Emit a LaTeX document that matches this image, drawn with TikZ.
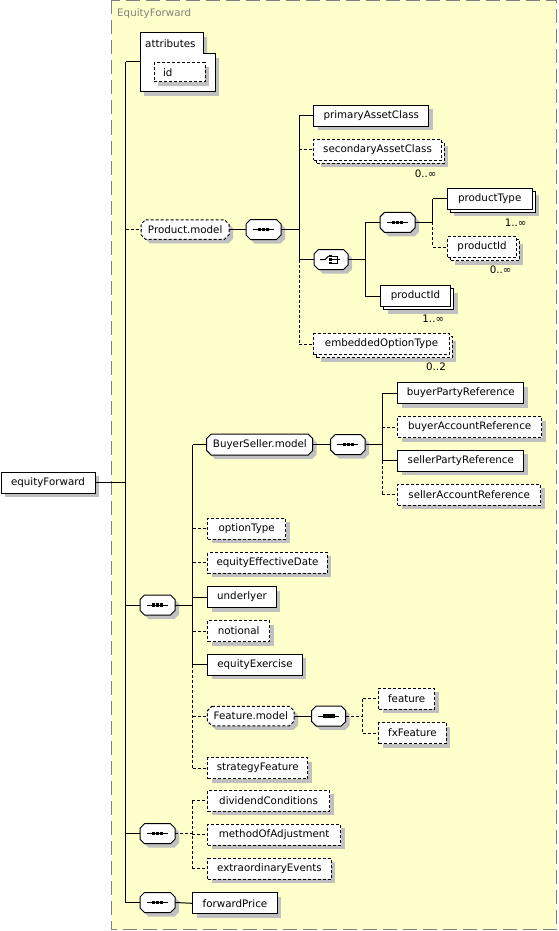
\documentclass[tikz,border=0pt]{standalone}
\usepackage{fontspec}
\setmainfont{DejaVu Sans}
\definecolor{bgyellow}{HTML}{FFFFCC}
\definecolor{bordergray}{HTML}{808080}
\definecolor{shadowgray}{HTML}{C0C0C0}
\newcommand\seqsym[1]{%
  \draw[line width=1pt] ([xshift=-11pt]#1.center) -- ([xshift=10pt]#1.center);
  \foreach \d in {-4,0,4} \fill ([xshift=\d pt]#1.center) +(-1.6pt,-1.6pt) rectangle +(1.6pt,1.6pt);}
\newcommand\chsym[1]{%
  \draw[line width=1pt] ([xshift=-11pt]#1.center) -- ([xshift=-6pt]#1.center) -- ([shift={(-2.5pt,3.5pt)}]#1.center);
  \foreach \d in {-3.5,0,3.5} \fill ([shift={(-1pt,\d pt)}]#1.center) +(-1.3pt,-1.3pt) rectangle +(1.3pt,1.3pt);
  \draw[line width=1pt] ([shift={(1pt,3.5pt)}]#1.center) -- ++(5.5pt,0) -- ++(0,-7pt) -- ++(-5.5pt,0);
  \draw[line width=1pt] ([xshift=1pt]#1.center) -- ([xshift=9pt]#1.center);}
% octagon outline: x(left), y(center), width, height, options
\newcommand\octat[5]{%
  \draw[shd, fill=white, line width=1pt, #5]
    (#1+4.5,#2-#4/2) -- (#1+#3-4.5,#2-#4/2) -- (#1+#3,#2-#4/2+4.5) -- (#1+#3,#2+#4/2-4.5)
    -- (#1+#3-4.5,#2+#4/2) -- (#1+4.5,#2+#4/2) -- (#1,#2+#4/2-4.5) -- (#1,#2-#4/2+4.5) -- cycle;}
\tikzset{
  shd/.style={preaction={fill=shadowgray, transform canvas={shift={(4pt,-4pt)}}}},
  mshd/.style={preaction={fill=shadowgray, transform canvas={shift={(7pt,-7pt)}}},
               preaction={draw, line width=1pt, fill=white, #1, transform canvas={shift={(3pt,-3pt)}}}},
  mshd/.default=solid,
  dsh/.style={dash pattern=on 3pt off 2pt},
  ln/.style={line width=1pt},
  lbl/.style={font=\fontsize{10.3}{12}\selectfont, inner sep=0pt},
  elbase/.style={rectangle, draw, fill=white, line width=1pt, minimum height=21pt,
                 inner xsep=4pt, inner ysep=0pt, font=\fontsize{10.3}{12}\selectfont, anchor=west},
  el/.style={elbase, shd},
  optel/.style={elbase, shd, dsh},
  mel/.style={elbase, mshd},
  moptel/.style={elbase, dsh, mshd={dash pattern=on 3pt off 2pt}},
  octn/.style={rectangle, inner sep=0pt, minimum height=20pt, anchor=west,
               font=\fontsize{10.3}{12}\selectfont},
  mult/.style={lbl, anchor=east}
}
\begin{document}
\begin{tikzpicture}[x=1pt,y=-1pt]
\useasboundingbox (0,0) rectangle (558,931);
% background
\fill[bgyellow] (111.5,0.5) rectangle (556.5,929.5);
\draw[bordergray, line width=1.4pt, dash pattern=on 14pt off 6pt] (111.5,0.5) rectangle (556.5,929.5);
\node[lbl, anchor=west, text=bordergray] (title) at (117,14) {EquityForward};

% root
\node[el, minimum width=94pt] (root) at (0.5,482.5) {equityForward};

% attributes
\draw[shd, fill=white, line width=1pt] (140,33) -- (203,33) -- (203,54) -- (215,54) -- (215,92) -- (140,92) -- cycle;
\node[lbl, anchor=west] (attr) at (145,43.5) {attributes};
\coordinate (attrL) at (140,62);
\node[optel, minimum height=19pt, text width=33pt, inner xsep=9pt, align=left] (id) at (153.5,72.4) {id};

% spine 1
\coordinate (s1) at (125.5,0);
\octat{141}{229.5}{88}{19.5}{dsh}
\node[octn, minimum width=88pt] (pm) at (141,229.5) {Product.model};
\octat{246}{229.5}{35}{20}{}
\node[octn, minimum width=35pt] (pseq) at (246,229.5) {}; \seqsym{pseq}
\octat{140}{605}{35}{20}{}
\node[octn, minimum width=35pt] (seq2) at (140,605) {}; \seqsym{seq2}
\octat{140}{833.7}{35}{20}{}
\node[octn, minimum width=35pt] (seq3) at (140,833.7) {}; \seqsym{seq3}
\octat{140}{902.5}{35}{20}{}
\node[octn, minimum width=35pt] (seq4) at (140,902.5) {}; \seqsym{seq4}

\draw[ln] (root.east) -- (s1 |- root.east);
\draw[ln] (s1 |- attrL) -- (s1 |- seq4.west);
\draw[ln] (s1 |- attrL) -- (attrL);
\draw[ln, dsh] (s1 |- pm.west) -- (pm.west);
\draw[ln] (s1 |- seq2.west) -- (seq2.west);
\draw[ln] (s1 |- seq3.west) -- (seq3.west);
\draw[ln] (s1 |- seq4.west) -- (seq4.west);

% Product.model
\coordinate (v1) at (299,0);
\node[el, minimum width=115pt] (pac) at (313.3,116) {primaryAssetClass};
\node[moptel, minimum width=127.5pt] (sac) at (313.3,149.7) {secondaryAssetClass};
\node[mult] (m1) at (436.7,173.3) {0..∞};
\octat{314}{259.5}{34}{20}{}
\node[octn, minimum width=34pt] (ch) at (314,259.5) {}; \chsym{ch}
\node[moptel, minimum width=135.5pt] (eot) at (313.3,344) {embeddedOptionType};
\node[mult] (m5) at (446,367) {0..2};
\draw[ln] (pm.east) -- (pseq.west);
\draw[ln] (pseq.east) -- (v1 |- pseq.east);
\draw[ln] (v1 |- pac.west) -- (v1 |- ch.west);
\draw[ln, dsh] (v1 |- ch.west) -- (v1 |- eot.west);
\draw[ln] (v1 |- pac.west) -- (pac.west);
\draw[ln, dsh] (v1 |- sac.west) -- (sac.west);
\draw[ln] (v1 |- ch.west) -- (ch.west);
\draw[ln, dsh] (v1 |- eot.west) -- (eot.west);

% choice
\coordinate (v2) at (365.3,0);
\coordinate (v3) at (432.7,0);
\octat{380}{222.3}{35}{20}{}
\node[octn, minimum width=35pt] (iseq) at (380,222.3) {}; \seqsym{iseq}
\node[mel, minimum width=85pt] (pt) at (446.7,198.8) {productType};
\node[mult] (m2) at (526.7,222.3) {1..∞};
\node[moptel, minimum width=68.5pt] (pid1) at (447.3,247) {productId};
\node[mult] (m3) at (511.7,270) {0..∞};
\node[mel, minimum width=70pt] (pid2) at (380,296) {productId};
\node[mult] (m4) at (444.3,319) {1..∞};
\draw[ln] (ch.east) -- (v2 |- ch.east);
\draw[ln] (v2 |- iseq.west) -- (v2 |- pid2.west);
\draw[ln] (v2 |- iseq.west) -- (iseq.west);
\draw[ln] (v2 |- pid2.west) -- (pid2.west);
\draw[ln] (iseq.east) -- (v3 |- iseq.east);
\draw[ln] (v3 |- pt.west) -- (v3 |- iseq.east);
\draw[ln, dsh] (v3 |- iseq.east) -- (v3 |- pid1.west);
\draw[ln] (v3 |- pt.west) -- (pt.west);
\draw[ln, dsh] (v3 |- pid1.west) -- (pid1.west);

% seq2 branch
\coordinate (v5) at (192.5,0);
\octat{206.7}{444.5}{106}{21}{}
\node[octn, minimum width=106pt] (bsm) at (206.7,444.5) {BuyerSeller.model};
\octat{330.7}{444.5}{34.5}{20}{}
\node[octn, minimum width=34.5pt] (bsseq) at (330.7,444.5) {}; \seqsym{bsseq}
\node[optel, minimum width=77.7pt] (ot) at (207.3,528.8) {optionType};
\node[optel, minimum width=119.4pt] (eed) at (207.3,562.8) {equityEffectiveDate};
\node[el, minimum width=68.4pt] (und) at (207.3,597) {underlyer};
\node[optel, minimum width=61.7pt] (notl) at (207.3,631) {notional};
\node[el, minimum width=94.4pt] (ee) at (207.3,664.8) {equityExercise};
\octat{207.3}{716}{86.7}{19.5}{dsh}
\node[octn, minimum width=86.7pt] (fm) at (207.3,716) {Feature.model};
\octat{311.7}{716}{34}{20}{}
\node[octn, minimum width=34pt] (fseq) at (311.7,716) {}; \seqsym{fseq}
\node[optel, minimum width=100pt] (sf) at (207.3,768) {strategyFeature};
\draw[ln] (seq2.east) -- (v5 |- seq2.east);
\draw[ln] (v5 |- bsm.west) -- (v5 |- ee.west);
\draw[ln, dsh] (v5 |- ee.west) -- (v5 |- sf.west);
\draw[ln] (v5 |- bsm.west) -- (bsm.west);
\draw[ln, dsh] (v5 |- ot.west) -- (ot.west);
\draw[ln, dsh] (v5 |- eed.west) -- (eed.west);
\draw[ln] (v5 |- und.west) -- (und.west);
\draw[ln, dsh] (v5 |- notl.west) -- (notl.west);
\draw[ln] (v5 |- ee.west) -- (ee.west);
\draw[ln, dsh] (v5 |- fm.west) -- (fm.west);
\draw[ln, dsh] (v5 |- sf.west) -- (sf.west);

% BuyerSeller
\coordinate (v4) at (382.3,0);
\node[el, minimum width=126pt] (bpr) at (397.3,393) {buyerPartyReference};
\node[optel, minimum width=143.7pt] (bar) at (397.3,427) {buyerAccountReference};
\node[el, minimum width=126pt] (spr) at (397.3,460.7) {sellerPartyReference};
\node[optel, minimum width=142.7pt] (sar) at (397.3,494.7) {sellerAccountReference};
\draw[ln] (bsm.east) -- (bsseq.west);
\draw[ln] (bsseq.east) -- (v4 |- bsseq.east);
\draw[ln] (v4 |- bpr.west) -- (v4 |- spr.west);
\draw[ln, dsh] (v4 |- spr.west) -- (v4 |- sar.west);
\draw[ln] (v4 |- bpr.west) -- (bpr.west);
\draw[ln, dsh] (v4 |- bar.west) -- (bar.west);
\draw[ln] (v4 |- spr.west) -- (spr.west);
\draw[ln, dsh] (v4 |- sar.west) -- (sar.west);

% Feature.model
\coordinate (v6) at (362.7,0);
\node[optel, minimum width=55.7pt] (feat) at (378.3,698.8) {feature};
\node[optel, minimum width=67.4pt] (fx) at (378.3,733) {fxFeature};
\draw[ln] (fm.east) -- (fseq.west);
\draw[ln, dsh] (fseq.east) -- (v6 |- fseq.east);
\draw[ln, dsh] (v6 |- feat.west) -- (v6 |- fx.west);
\draw[ln, dsh] (v6 |- feat.west) -- (feat.west);
\draw[ln, dsh] (v6 |- fx.west) -- (fx.west);

% seq3 branch
\coordinate (v7) at (192.3,0);
\node[optel, minimum width=121.7pt] (dc) at (207.3,800.5) {dividendConditions};
\node[optel, minimum width=132.7pt] (moa) at (207.3,834.5) {methodOfAdjustment};
\node[optel, minimum width=123.4pt] (eoe) at (207.3,868.8) {extraordinaryEvents};
\draw[ln, dsh] (seq3.east) -- (v7 |- seq3.east);
\draw[ln, dsh] (v7 |- dc.west) -- (v7 |- eoe.west);
\draw[ln, dsh] (v7 |- dc.west) -- (dc.west);
\draw[ln, dsh] (v7 |- moa.west) -- (moa.west);
\draw[ln, dsh] (v7 |- eoe.west) -- (eoe.west);

% seq4
\node[el, minimum width=84.4pt] (fp) at (192.3,903.3) {forwardPrice};
\draw[ln] (seq4.east) -- (fp.west);
\end{tikzpicture}
\end{document}
